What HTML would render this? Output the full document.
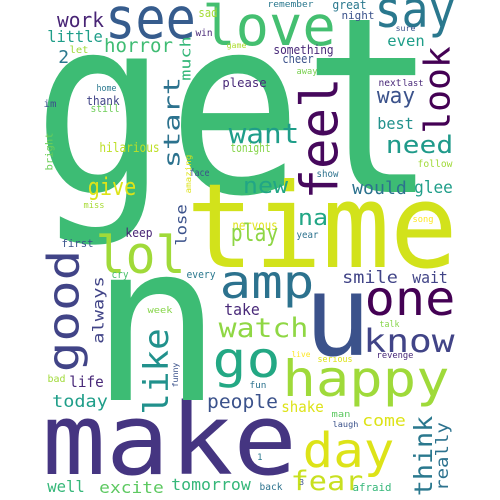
<!DOCTYPE html>
<html><head><meta charset="utf-8"><style>
html,body{margin:0;padding:0;background:#fff;width:500px;height:500px;overflow:hidden}
svg text{font-family:"DejaVu Sans Mono","Liberation Mono",monospace}
</style></head><body>
<svg id="cloud" width="500" height="500" viewBox="0 0 500 500" xmlns="http://www.w3.org/2000/svg">
<rect width="500" height="500" fill="#fff"/>
</svg>
<script>
// horizontal words: word, x0, x1, baseline, size, color
const hWords = [
["get",45,425,192,245,"#3dbc74"],["time",192,452,267,117,"#d2e21b"],["make",47,292,474,99,"#453581"],
["amp",222,312,298,46,"#2c728e"],["lol",98,183,273,52,"#a0da39"],["love",205,333,45,55,"#44bf70"],
["see",108,193,38,57,"#365c8d"],["say",377,453,27,50,"#2a788e"],["work",58,103,27,20,"#482475"],
["horror",105,172,52,19,"#3fbc73"],["little",48,102,42,16,"#1f9e89"],["let",70,88,53,10,"#a0da39"],
["sad",199,217,17,12,"#a5db36"],["win",196,212,36,10,"#482878"],["game",227,246,48,8,"#addc30"],
["home",97,116,91,9,"#2a788e"],["please",223,266,87,12,"#482878"],["thank",87,119,105,12,"#414487"],
["still",91,119,112,11,"#6ece58"],["im",44,56,107,10,"#3b528b"],["want",230,298,143,28,"#1f9e89"],
["hilarious",100,159,152,13,"#bddf26"],["tonight",231,270,152,12,"#86d549"],["face",190,209,176,10,"#3b528b"],
["give",89,135,195,24,"#dde318"],["new",244,287,193,22,"#21a685"],["miss",84,104,208,9,"#a8db34"],
["nervous",233,277,230,13,"#dde318"],["play",232,277,241,24,"#8ed645"],["keep",126,152,237,12,"#482475"],
["first",62,93,247,11,"#3b528b"],["remember",268,313,7,9,"#2a788e"],["great",333,366,9,12,"#2a788e"],
["night",342,374,19,11,"#3b528b"],["sure",396,415,31,8,"#3b528b"],["even",388,424,46,15,"#1f9e89"],
["something",274,333,54,12,"#482878"],["cheer",283,313,63,12,"#3b528b"],["away",297,317,74,9,"#7ad151"],
["next",379,401,86,10,"#482878"],["last",403,423,86,9,"#482878"],["way",378,414,103,22,"#3b528b"],
["best",378,413,129,16,"#21918c"],["need",387,452,153,24,"#1f9a8a"],["follow",418,452,167,10,"#a0da39"],
["show",317,338,177,10,"#2c728e"],["would",353,406,194,18,"#2c728e"],["glee",415,452,193,17,"#1f9e89"],
["na",299,327,225,22,"#21a685"],["song",413,433,222,9,"#fde725"],["year",297,318,238,10,"#2c728e"],
["cry",112,128,278,11,"#4ac16d"],["every",187,215,278,11,"#2a788e"],["take",225,259,315,16,"#482878"],
["week",148,172,313,9,"#86d549"],["watch",220,307,337,27,"#8fd744"],["go",215,278,377,50,"#23a884"],
["bad",48,65,382,10,"#a0da39"],["life",70,103,387,15,"#482878"],["fun",250,266,388,9,"#2c728e"],
["today",53,107,407,17,"#1f9e89"],["people",208,277,408,19,"#3b528b"],["well",48,84,492,16,"#35b779"],
["excite",100,163,493,16,"#5ec962"],["tomorrow",172,250,490,16,"#35b779"],["back",260,282,490,10,"#2c728e"],
["smile",343,397,283,17,"#414487"],["wait",413,447,283,16,"#414487"],["one",367,453,315,48,"#440154"],
["know",365,453,352,32,"#414487"],["talk",380,399,327,9,"#86d549"],["live",292,310,357,8,"#fde725"],
["serious",318,352,362,9,"#dde318"],["revenge",377,413,358,9,"#482878"],["happy",285,447,396,50,"#9fda3a"],
["shake",282,323,412,15,"#dde318"],["man",332,350,417,9,"#5ec962"],["come",363,405,426,16,"#dde318"],
["laugh",333,358,427,8,"#3b528b"],["day",305,392,467,48,"#dde318"],["fear",292,362,490,27,"#c8e020"],
["afraid",353,391,491,11,"#35b779"]
];
// single glyph words: word, x0, baseline, size, color
const gWords = [
["n",112,400,220,"#3dbc74"],["u",315,355,112,"#3b528b"],["2",60,63,18,"#2a788e"],
["1",258,460,9,"#2a788e"],["3",300,485,8,"#3b528b"]
];
// vertical words: word, xLeft, yTop, yBottom, size, color
const vWords = [
["much",180,37,80,14,"#35b779"],["start",163,78,167,22,"#2c728e"],["bright",45,133,170,10,"#6ece58"],
["amazing",185,155,193,8,"#dde318"],["lose",175,205,245,15,"#3b528b"],["look",422,48,132,36,"#440154"],
["feel",298,80,197,52,"#46085c"],["good",45,252,370,44,"#414487"],["always",92,277,343,15,"#414487"],
["like",142,330,413,34,"#21918c"],["funny",172,363,387,8,"#3b528b"],["think",413,417,495,25,"#2a788e"],
["really",435,423,490,17,"#2c728e"]
];
const svg = document.getElementById('cloud');
const NS = 'http://www.w3.org/2000/svg';
hWords.forEach(w => {
  const el = document.createElementNS(NS, 'text');
  const s = w[4];
  el.setAttribute('x', w[1] - 0.05 * s);
  el.setAttribute('y', w[3]);
  el.setAttribute('font-size', s);
  el.setAttribute('fill', w[5]);
  el.setAttribute('textLength', (w[2] - w[1]) + 0.1 * s);
  el.setAttribute('lengthAdjust', 'spacingAndGlyphs');
  el.textContent = w[0];
  
  
  svg.appendChild(el);
});
gWords.forEach(w => {
  const el = document.createElementNS(NS, 'text');
  const s = w[3];
  el.setAttribute('x', w[1] - 0.1 * s);
  el.setAttribute('y', w[2]);
  el.setAttribute('font-size', s);
  el.setAttribute('fill', w[4]);
  el.textContent = w[0];
  
  
  svg.appendChild(el);
});
vWords.forEach(w => {
  const el = document.createElementNS(NS, 'text');
  const s = w[4];
  const bx = w[1] + 0.76 * s;
  const by = w[3] + 0.05 * s;
  el.setAttribute('transform', 'translate(' + bx + ',' + by + ') rotate(-90)');
  el.setAttribute('x', 0);
  el.setAttribute('y', 0);
  el.setAttribute('font-size', s);
  el.setAttribute('fill', w[5]);
  el.setAttribute('textLength', (w[3] - w[2]) + 0.1 * s);
  el.setAttribute('lengthAdjust', 'spacingAndGlyphs');
  el.textContent = w[0];
  
  
  svg.appendChild(el);
});
</script>
</body></html>
